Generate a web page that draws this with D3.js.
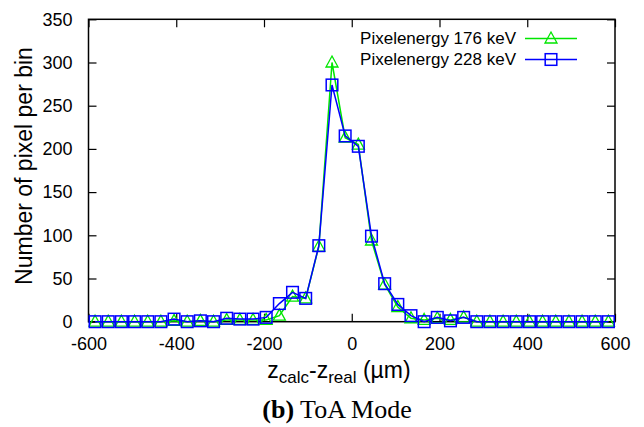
<!DOCTYPE html>
<html>
<head>
<meta charset="utf-8">
<script src="https://cdn.jsdelivr.net/npm/d3@7"></script>
<style>
  body { margin: 0; background: #fff; }
  svg { display: block; }
</style>
</head>
<body>
<svg id="chart" width="644" height="427"></svg>
<script>
// bin centres in um
const binCenters = [-585, -555, -525, -495, -465, -435, -405, -375, -345, -315,
                    -285, -255, -225, -195, -165, -135, -105, -75, -45, -15,
                    15, 45, 75, 105, 135, 165, 195, 225, 255, 285,
                    315, 345, 375, 405, 435, 465, 495, 525, 555, 585];

const counts176 = [0, 0, 0, 0, 0, 0, 1, 0, 1, 0,
                   2, 2, 2, 2, 7, 29, 27, 87, 300, 213,
                   205, 94, 43, 17, 4, 2, 4, 2, 5, 0,
                   0, 0, 0, 0, 0, 0, 0, 0, 0, 0];

const counts228 = [0, 0, 0, 0, 0, 0, 3, 0, 1, 0,
                   4, 3, 3, 5, 21, 34, 27, 88, 274, 215,
                   203, 99, 44, 20, 7, 0, 5, 1, 5, 0,
                   0, 0, 0, 0, 0, 0, 0, 0, 0, 0];

const xTicks = [-600, -400, -200, 0, 200, 400, 600];
const yTicks = [0, 50, 100, 150, 200, 250, 300, 350];
const seriesNames = ["Pixelenergy 176 keV", "Pixelenergy 228 keV"];

const svg = d3.select("#chart");
const box = {left: 88.5, right: 615, top: 19.3, bottom: 321.7};
const green = "#00e600", blue = "#0000ff";

const x = d3.scaleLinear().domain([-600, 600]).range([box.left, box.right]);
const y = d3.scaleLinear().domain([0, 350]).range([box.bottom, box.top]);

svg.append("rect").attr("width", 644).attr("height", 427).attr("fill", "#fff");

/* axes: gnuplot style, ticks pointing inward, mirrored */
const tickLen = 8;
const axisFont = "'Liberation Sans', Arial, Helvetica, sans-serif";
const plain = d => String(d);   // keep the ascii hyphen for negatives

let bottomAxis = svg.append("g")
    .attr("transform", `translate(0,${box.bottom})`)
    .call(d3.axisBottom(x).tickValues(xTicks).tickFormat(plain).tickSizeInner(-tickLen).tickSizeOuter(0).tickPadding(16));
let topAxis = svg.append("g")
    .attr("transform", `translate(0,${box.top})`)
    .call(d3.axisTop(x).tickValues(xTicks).tickSizeInner(-tickLen).tickSizeOuter(0).tickFormat(""));
let leftAxis = svg.append("g")
    .attr("transform", `translate(${box.left},0)`)
    .call(d3.axisLeft(y).tickValues(yTicks).tickFormat(plain).tickSizeInner(-tickLen).tickSizeOuter(0).tickPadding(16));
let rightAxis = svg.append("g")
    .attr("transform", `translate(${box.right},0)`)
    .call(d3.axisRight(y).tickValues(yTicks).tickSizeInner(-tickLen).tickSizeOuter(0).tickFormat(""));

[bottomAxis, topAxis, leftAxis, rightAxis].forEach(a => {
    a.select(".domain").remove();
    a.selectAll(".tick line").attr("stroke", "#000").attr("stroke-width", 1.2);
    a.selectAll("text")
        .attr("font-family", axisFont)
        .attr("font-size", 18)
        .attr("fill", "#000");
});

svg.append("rect")
    .attr("x", box.left).attr("y", box.top)
    .attr("width", box.right - box.left)
    .attr("height", box.bottom - box.top)
    .attr("fill", "none")
    .attr("stroke", "#000")
    .attr("stroke-width", 1.5);

/* axis labels */
svg.append("text")
    .attr("transform", "translate(24,166) rotate(-90)")
    .attr("text-anchor", "middle")
    .attr("dominant-baseline", "central")
    .attr("font-family", axisFont)
    .attr("font-size", 23)
    .text("Number of pixel per bin");

let xlabel = svg.append("text")
    .attr("x", 339).attr("y", 378)
    .attr("text-anchor", "middle")
    .attr("font-family", axisFont)
    .attr("font-size", 23);
xlabel.append("tspan").text("z");
xlabel.append("tspan").attr("font-size", 17).attr("dy", 5).text("calc");
xlabel.append("tspan").attr("dy", -5).text("-z");
xlabel.append("tspan").attr("font-size", 17).attr("dy", 5).text("real");
xlabel.append("tspan").attr("dy", -5).text(" (\u00b5m)");

let caption = svg.append("text")
    .attr("x", 337).attr("y", 418)
    .attr("text-anchor", "middle")
    .attr("font-family", "'Liberation Serif', 'Times New Roman', serif")
    .attr("font-size", 26);
caption.append("tspan").attr("font-weight", "bold").text("(b)");
caption.append("tspan").text(" ToA Mode");

/* markers */
const triangle = (g, cx, cy, color) => g.append("path")
    .attr("d", `M${cx},${cy - 6.5}L${cx + 6},${cy + 4.5}L${cx - 6},${cy + 4.5}Z`)
    .attr("fill", "none").attr("stroke", color).attr("stroke-width", 1.3);
const square = (g, cx, cy, color) => g.append("rect")
    .attr("x", cx - 5.8).attr("y", cy - 5.8)
    .attr("width", 11.6).attr("height", 11.6)
    .attr("fill", "none").attr("stroke", color).attr("stroke-width", 1.5);

const line = d3.line().x(d => x(d[0])).y(d => y(d[1]));

function drawSeries(values, color, marker) {
    let pts = binCenters.map((c, i) => [c, values[i]]);
    let g = svg.append("g");
    g.append("path")
        .datum(pts)
        .attr("d", line)
        .attr("fill", "none")
        .attr("stroke", color)
        .attr("stroke-width", 1.5);
    pts.forEach(p => marker(g, x(p[0]), y(p[1]), color));
}

drawSeries(counts176, green, triangle);
drawSeries(counts228, blue, square);

/* legend */
const legendRows = [
    {name: seriesNames[0], color: green, marker: triangle, y: 38.5},
    {name: seriesNames[1], color: blue, marker: square, y: 59.5}
];
legendRows.forEach(r => {
    let g = svg.append("g");
    g.append("text")
        .attr("x", 516).attr("y", r.y)
        .attr("text-anchor", "end")
        .attr("dominant-baseline", "central")
        .attr("font-family", axisFont)
        .attr("font-size", 17)
        .text(r.name);
    g.append("line")
        .attr("x1", 525).attr("x2", 577)
        .attr("y1", r.y).attr("y2", r.y)
        .attr("stroke", r.color).attr("stroke-width", 1.5);
    r.marker(g, 551, r.y, r.color);
});
</script>
</body>
</html>
